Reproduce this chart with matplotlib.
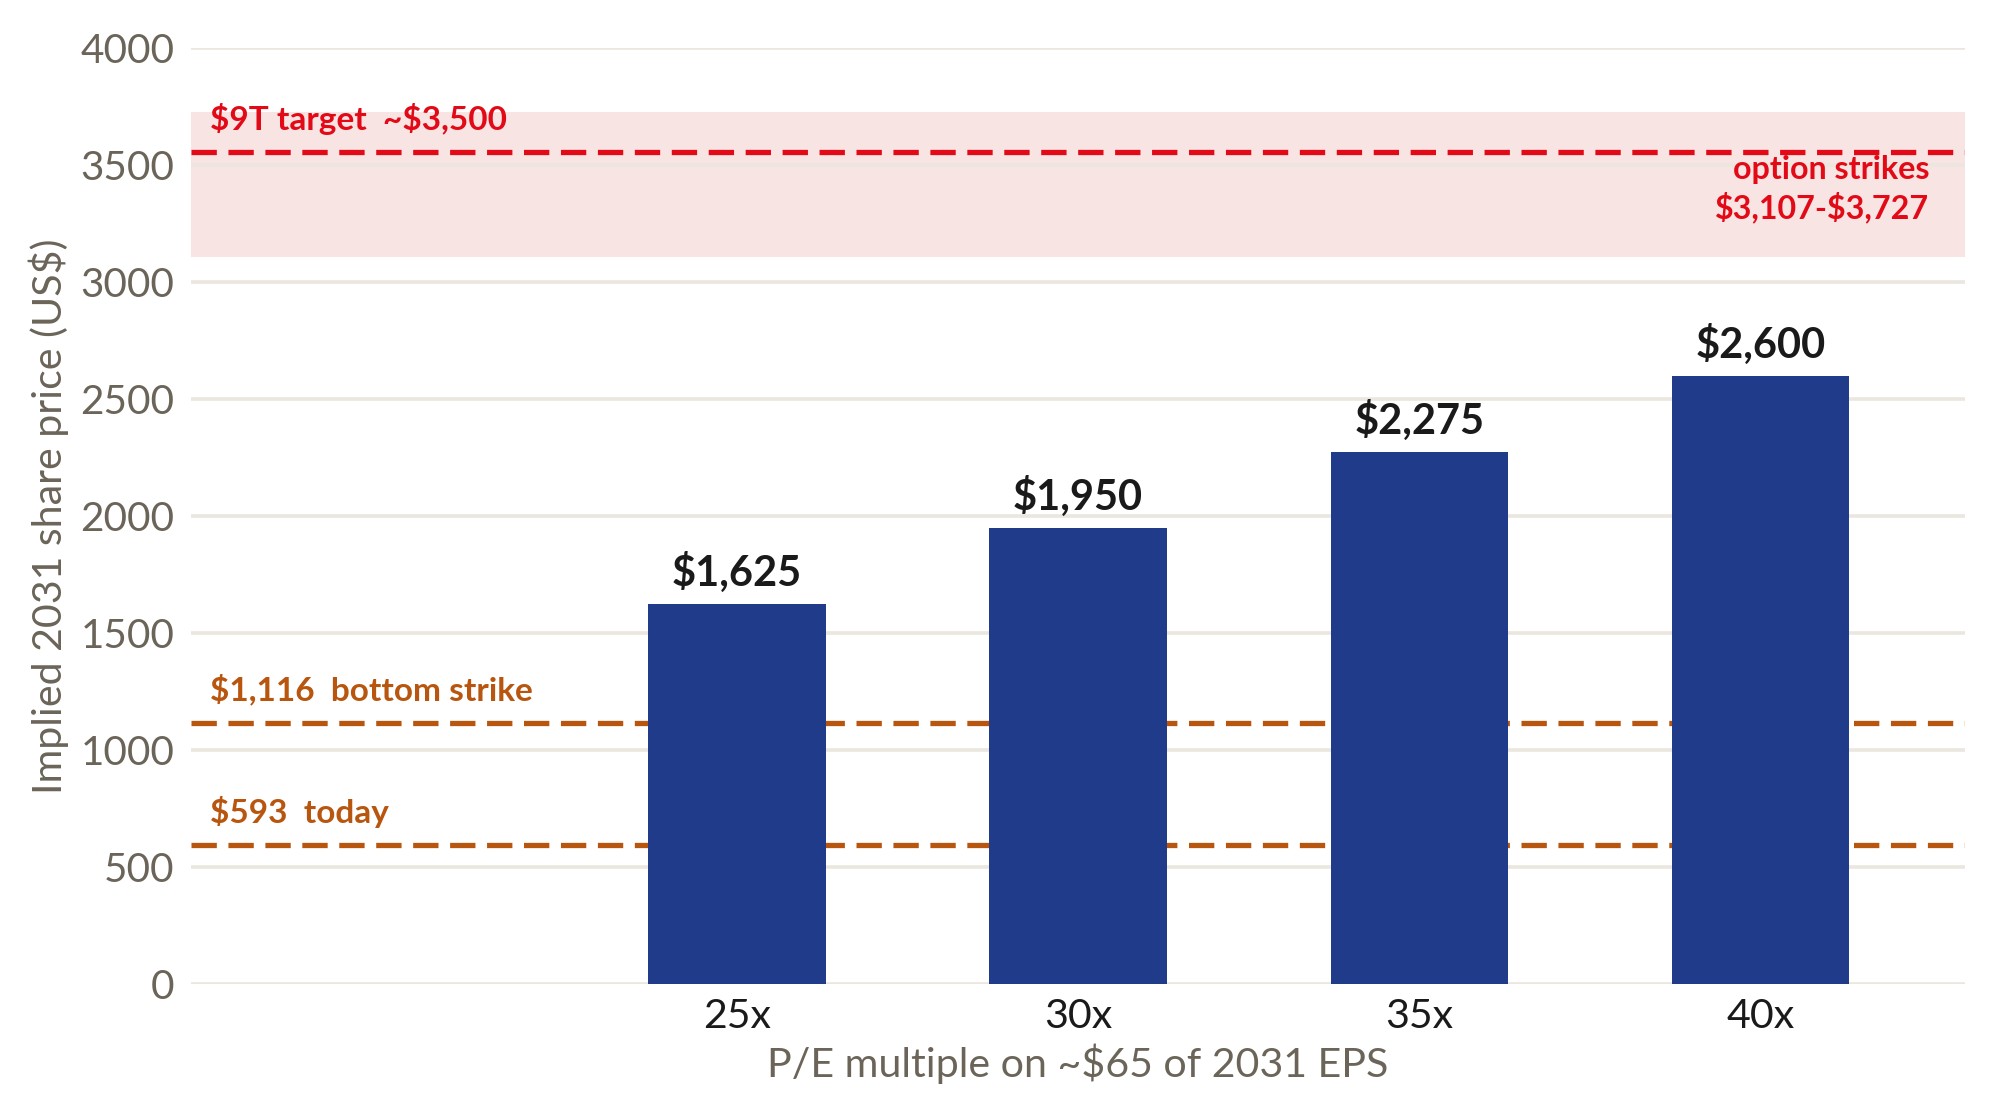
import matplotlib
matplotlib.use("Agg")
import matplotlib.pyplot as plt

plt.rcParams['font.family'] = ['Lato', 'DejaVu Sans']
plt.rcParams['text.parse_math'] = False

multiples = ['25x', '30x', '35x', '40x']
prices = [1625, 1950, 2275, 2600]
price_labels = ['$1,625', '$1,950', '$2,275', '$2,600']

target_price = 3557
target_label = '$9T target  ~$3,500'
strike_low, strike_high = 3107, 3727
strike_label = 'option strikes\n$3,107-$3,727'
bottom_strike = 1116
bottom_label = '$1,116  bottom strike'
today_price = 593
today_label = '$593  today'

yticks = [0, 500, 1000, 1500, 2000, 2500, 3000, 3500, 4000]

bar_color = '#1f3b8a'
red = '#e30a17'
orange = '#b8560f'
band_color = '#f9e4e4'
grid_color = '#ebe7df'
grey = '#6b6459'

fig = plt.figure(figsize=(9.99, 5.59), dpi=200)
ax = fig.add_axes([0.0956, 0.1199, 0.888, 0.837])

x = list(range(len(multiples)))
ax.set_xlim(-1.6, 3.6)
ax.set_ylim(0, 4000)

ax.axhspan(strike_low, strike_high, color=band_color, zorder=0.5, lw=0)
for t in yticks:
    ax.axhline(t, color=grid_color, lw=1.3, zorder=1)

dash = (4.8, 2.2)
ax.axhline(target_price, color=red, lw=1.9, dashes=dash, zorder=2)
ax.axhline(bottom_strike, color=orange, lw=1.9, dashes=dash, zorder=2)
ax.axhline(today_price, color=orange, lw=1.9, dashes=dash, zorder=2)

bars = ax.bar(x, prices, width=0.52, color=bar_color, zorder=3)
for b, lab in zip(bars, price_labels):
    ax.annotate(lab, (b.get_x() + b.get_width() / 2, b.get_height()),
                xytext=(0, 4), textcoords='offset points', ha='center', va='bottom',
                fontsize=15, fontweight='bold', color='#1a1a1a')

xl = -1.545
ax.text(xl, target_price + 95, target_label, color=red, fontsize=12,
        fontweight='bold', va='baseline', ha='left')
ax.text(xl, bottom_strike + 95, bottom_label, color=orange, fontsize=12,
        fontweight='bold', va='baseline', ha='left')
ax.text(xl, today_price + 95, today_label, color=orange, fontsize=12,
        fontweight='bold', va='baseline', ha='left')
ax.text(3.495, 3398, strike_label, color=red, fontsize=11.6, fontweight='bold',
        ha='right', va='center', multialignment='right', linespacing=1.3)

for s in ax.spines.values():
    s.set_visible(False)
ax.set_yticks(yticks)
ax.set_xticks(x)
ax.set_xticklabels(multiples)
ax.tick_params(axis='both', length=0)
ax.tick_params(axis='y', labelsize=14.6, labelcolor=grey, pad=6)
ax.tick_params(axis='x', labelsize=14.8, labelcolor='#1a1a1a', pad=5)
ax.set_ylabel('Implied 2031 share price (US$)', fontsize=14.8, color=grey, labelpad=4)
ax.set_xlabel('P/E multiple on ~$65 of 2031 EPS', fontsize=14.8, color=grey, labelpad=3)

fig.savefig('out.png', dpi=200)
